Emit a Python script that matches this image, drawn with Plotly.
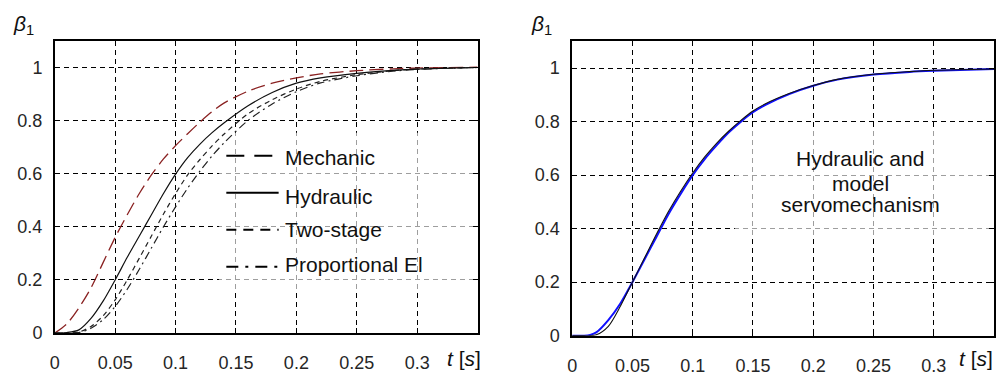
import plotly.graph_objects as go

# ---------------- data ----------------
t_left = [0, 0.01, 0.02, 0.03, 0.04, 0.05, 0.06, 0.07, 0.08, 0.09, 0.10, 0.11,
          0.12, 0.13, 0.14, 0.16, 0.18, 0.20, 0.22, 0.25, 0.28, 0.30, 0.35]
mechanic = [0, 0.035, 0.095, 0.17, 0.265, 0.36, 0.445, 0.525, 0.595, 0.655, 0.705, 0.75,
            0.793, 0.832, 0.865, 0.91, 0.94, 0.96, 0.975, 0.987, 0.994, 0.997, 1.0]
hydraulic = [0, 0.002, 0.012, 0.055, 0.12, 0.2, 0.285, 0.365, 0.445, 0.525, 0.598, 0.66,
             0.71, 0.753, 0.79, 0.855, 0.905, 0.94, 0.96, 0.977, 0.988, 0.993, 0.999]
two_stage = [0, 0, 0.004, 0.025, 0.065, 0.125, 0.2, 0.282, 0.365, 0.448, 0.525, 0.595,
             0.652, 0.703, 0.748, 0.825, 0.878, 0.918, 0.947, 0.972, 0.987, 0.993, 0.999]
proportional = [0, 0, 0.002, 0.018, 0.05, 0.1, 0.165, 0.24, 0.32, 0.4, 0.475, 0.545,
                0.608, 0.665, 0.715, 0.8, 0.862, 0.908, 0.941, 0.968, 0.985, 0.992, 0.999]

t_right = [0, 0.01, 0.015, 0.02, 0.03, 0.04, 0.05, 0.06, 0.07, 0.08, 0.09, 0.10, 0.11,
           0.12, 0.13, 0.14, 0.15, 0.16, 0.18, 0.20, 0.22, 0.25, 0.28, 0.30, 0.35]
hydraulic_r = [0, 0, 0, 0.003, 0.035, 0.11, 0.2, 0.29, 0.38, 0.465, 0.54, 0.608, 0.668,
               0.72, 0.765, 0.805, 0.84, 0.866, 0.905, 0.935, 0.958, 0.977, 0.987, 0.992, 0.997]
model_r = [0, 0, 0.003, 0.012, 0.058, 0.12, 0.2, 0.285, 0.37, 0.455, 0.53, 0.6, 0.66,
           0.712, 0.76, 0.8, 0.835, 0.862, 0.903, 0.934, 0.957, 0.976, 0.986, 0.99, 0.997]

x_ticks = [0, 0.05, 0.1, 0.15, 0.2, 0.25, 0.3]
x_tick_text = ["0", "0.05", "0.1", "0.15", "0.2", "0.25", "0.3"]
y_ticks = [0, 0.2, 0.4, 0.6, 0.8, 1]
y_tick_text = ["0", "0.2", "0.4", "0.6", "0.8", "1"]

legend_names = ["Mechanic", "Hydraulic", "Two-stage", "Proportional El"]
legend_dashes = ["18px,10px", "solid", "10px,7px", "12px,7px,3px,7px"]
legend_text_rows = [0.659, 0.515, 0.391, 0.257]
legend_line_rows = [0.667, 0.528, 0.389, 0.250]
annot_lines = ["Hydraulic and", "model", "servomechanism"]
annot_rows = [0.661, 0.568, 0.492]

FONT = "Arial, Liberation Sans, sans-serif"
DARK_RED = "#8a2222"

fig = go.Figure()

fig.add_trace(go.Scatter(x=t_left, y=mechanic, mode="lines", line=dict(color=DARK_RED, width=1.3, dash="14px,6px", shape="spline", smoothing=0.8), xaxis="x", yaxis="y", showlegend=False))
fig.add_trace(go.Scatter(x=t_left, y=proportional, mode="lines", line=dict(color="#222", width=1.2, dash="8px,4px,2px,4px", shape="spline", smoothing=0.8), xaxis="x", yaxis="y", showlegend=False))
fig.add_trace(go.Scatter(x=t_left, y=two_stage, mode="lines", line=dict(color="#222", width=1.2, dash="5px,4px", shape="spline", smoothing=0.8), xaxis="x", yaxis="y", showlegend=False))
fig.add_trace(go.Scatter(x=t_left, y=hydraulic, mode="lines", line=dict(color="#111", width=1.2, shape="spline", smoothing=0.8), xaxis="x", yaxis="y", showlegend=False))

fig.add_trace(go.Scatter(x=t_right, y=model_r, mode="lines", line=dict(color="#1010ff", width=2, shape="spline", smoothing=0.8), xaxis="x2", yaxis="y2", showlegend=False))
fig.add_trace(go.Scatter(x=t_right, y=hydraulic_r, mode="lines", line=dict(color="#111", width=1.1, shape="spline", smoothing=0.8), xaxis="x2", yaxis="y2", showlegend=False))

axis_common = dict(
    showline=True, linecolor="black", linewidth=1.5, mirror="allticks",
    ticks="inside", ticklen=5, tickcolor="black", tickwidth=1.3,
    showgrid=True, gridcolor="black", gridwidth=1.4, griddash="5px,4px",
    zeroline=False, tickfont=dict(family=FONT, size=18, color="#262626"),
)

fig.update_layout(
    width=1000, height=376,
    margin=dict(l=0, r=0, t=0, b=0),
    paper_bgcolor="white", plot_bgcolor="white",
    xaxis=dict(domain=[0.050, 0.475], range=[0, 0.35], tickvals=x_ticks, ticktext=x_tick_text,
               anchor="y", ticklabelstandoff=13, **axis_common),
    yaxis=dict(domain=[0.0824, 0.888], range=[0, 1.1], tickvals=y_ticks, ticktext=y_tick_text,
               anchor="x", ticklabelstandoff=7, **axis_common),
    xaxis2=dict(domain=[0.570, 0.994], range=[0, 0.35], tickvals=x_ticks, ticktext=x_tick_text,
                anchor="y2", ticklabelstandoff=13, **axis_common),
    yaxis2=dict(domain=[0.0753, 0.886], range=[0, 1.1], tickvals=y_ticks, ticktext=y_tick_text,
                anchor="x2", ticklabelstandoff=7, **axis_common),
)

shapes = [
    # faded grid regions
    dict(type="rect", xref="x", yref="y", x0=0.136, x1=0.35, y0=0.163, y1=0.754,
         fillcolor="white", opacity=0.62, line=dict(width=0), layer="between"),
    dict(type="rect", xref="x2", yref="y2", x0=0.135, x1=0.35, y0=0.364, y1=0.776,
         fillcolor="white", opacity=0.62, line=dict(width=0), layer="between"),
]
for name, dash, yy in zip(legend_names, legend_dashes, legend_line_rows):
    shapes.append(dict(type="line", xref="x", yref="y", x0=0.142, x1=0.1853,
                       y0=yy, y1=yy,
                       line=dict(color="black", width=2, dash=dash), layer="above"))
fig.update_layout(shapes=shapes)

annotations = []
for name, yy in zip(legend_names, legend_text_rows):
    annotations.append(dict(xref="x", yref="y", x=0.189, y=yy, text=name, showarrow=False,
                            xanchor="left", yanchor="middle",
                            font=dict(family=FONT, size=21, color="#111")))
for line, yy in zip(annot_lines, annot_rows):
    annotations.append(dict(xref="x2", yref="y2", x=0.239, y=yy, text=line, showarrow=False,
                            xanchor="center", yanchor="middle",
                            font=dict(family=FONT, size=21, color="#111")))
for xp in [0.006, 0.527]:
    annotations.append(dict(xref="paper", yref="paper", x=xp, y=1 - 26 / 376,
                            text="<i>β</i><sub>1</sub>", showarrow=False,
                            xanchor="left", yanchor="middle",
                            font=dict(family=FONT, size=21, color="#111")))
for xp in [0.461, 0.976]:
    annotations.append(dict(xref="paper", yref="paper", x=xp, y=(376 - 371) / 376,
                            text="<i>t</i> [<i>s</i>]", showarrow=False,
                            xanchor="center", yanchor="middle",
                            font=dict(family=FONT, size=21, color="#111")))
fig.update_layout(annotations=annotations)

fig.write_html("out.html", config={"displayModeBar": False},
               post_script="document.body.style.margin='0';document.body.style.padding='0';document.body.style.overflow='hidden';")
